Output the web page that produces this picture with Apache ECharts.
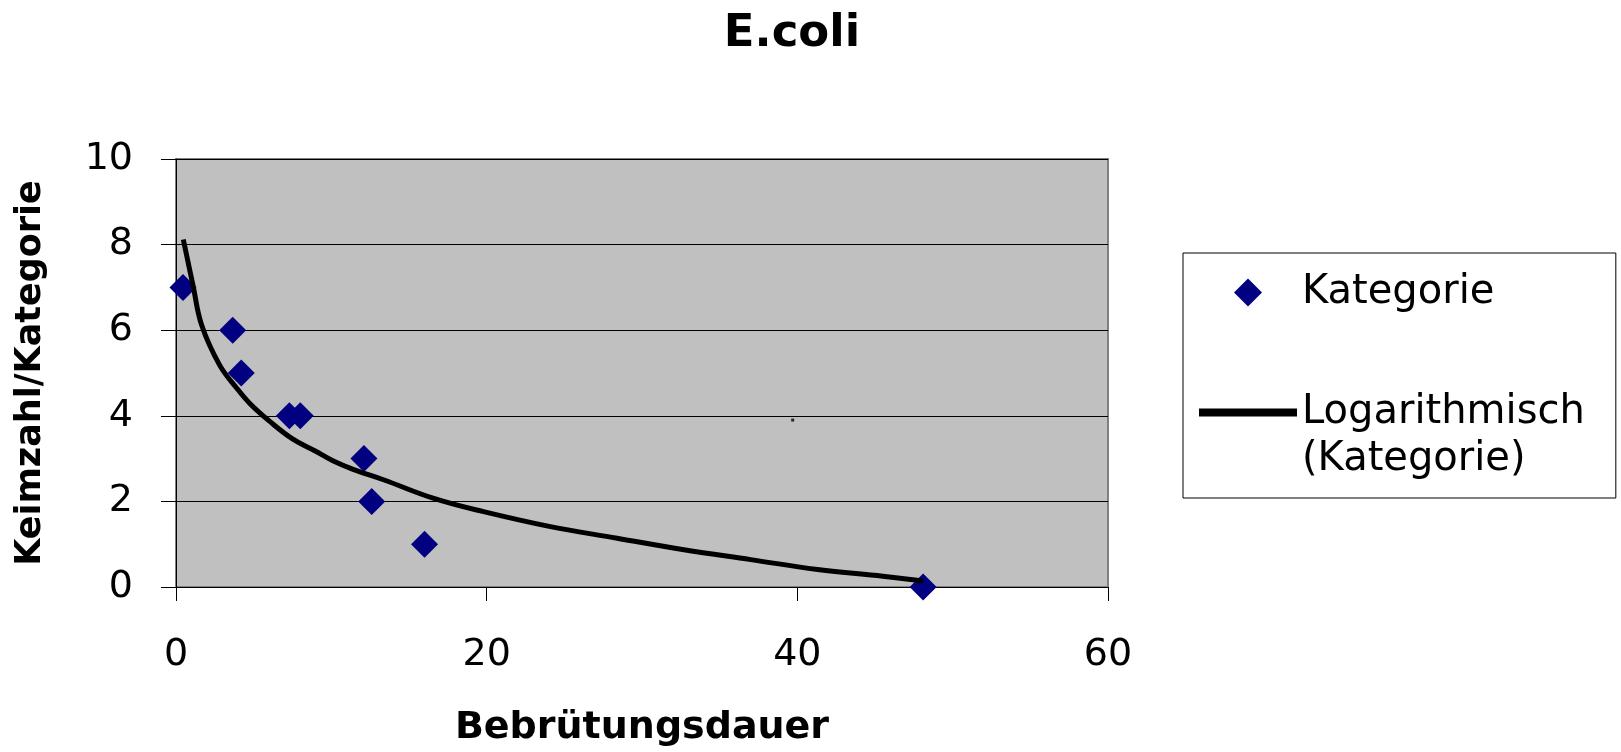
<!DOCTYPE html>
<html>
<head>
<meta charset="utf-8">
<title>E.coli</title>
<script src="https://cdn.jsdelivr.net/npm/echarts@6/dist/echarts.min.js"></script>
<style>
  html, body { margin: 0; padding: 0; background: #fff; }
  #main { width: 1621px; height: 752px; }
</style>
</head>
<body>
<div id="main"></div>
<script>
// measured points (Bebrütungsdauer / Keimzahl-Kategorie)
var kategorieX = [0.45, 3.65, 4.2, 7.3, 8.0, 12.1, 12.6, 16.0, 48.1];
var kategorieY = [7, 6, 5, 4, 4, 3, 2, 1, 0];

// logarithmic trendline
var trendX = [0.47, 1.1, 1.65, 2.8, 3.9, 4.8, 6.0, 7.5, 8.9, 10.1, 11.4, 13.4, 16.6, 19.8, 24.1, 28.4, 32.7, 37.0, 41.3, 45.5, 48.1];
var trendY = [8.12, 7.04, 6.12, 5.19, 4.65, 4.27, 3.88, 3.46, 3.19, 2.95, 2.75, 2.5, 2.07, 1.76, 1.41, 1.14, 0.87, 0.64, 0.41, 0.25, 0.14];

// small stray dot in the plot
var dotX = [39.7];
var dotY = [3.9];

var xTicks = [0, 20, 40, 60];
var yTicks = [0, 2, 4, 6, 8, 10];

function pairs(xs, ys) {
    var out = [];
    for (var i = 0; i < xs.length; i++) out.push([xs[i], ys[i]]);
    return out;
}

var myChart = echarts.init(document.getElementById('main'));

var option = {
    backgroundColor: '#ffffff',
    animation: false,
    title: {
        text: 'E.coli',
        left: 787,
        top: 7,
        textAlign: 'center',
        textStyle: { fontFamily: 'DejaVu Sans', fontWeight: 'bold', fontSize: 45, color: '#000' }
    },
    legend: {
        left: 1183,
        top: 253,
        orient: 'vertical',
        padding: [16, 31, 15, 16],
        itemGap: 26,
        itemWidth: 98,
        itemHeight: 28,
        symbolKeepAspect: true,
        borderColor: '#000',
        borderWidth: 1,
        data: [
            // square path so the diamond keeps its shape inside the wide icon box
            { name: 'Kategorie', icon: 'path://M14 0L28 14L14 28L0 14Z' },
            { name: 'Logarithmisch (Kategorie)', icon: 'path://M0 0H98V8H0Z' }
        ],
        formatter: function (name) {
            if (name === 'Logarithmisch (Kategorie)') return '\nLogarithmisch\n(Kategorie)';
            return name;
        },
        textStyle: { fontFamily: 'DejaVu Sans', fontSize: 40, lineHeight: 47, color: '#000' }
    },
    grid: {
        left: 176,
        top: 159,
        width: 932,
        height: 432,
        show: true,
        backgroundColor: '#c0c0c0',
        borderColor: '#808080',
        borderWidth: 2
    },
    xAxis: {
        type: 'value',
        min: xTicks[0],
        max: xTicks[xTicks.length - 1],
        interval: 20,
        name: 'Bebrütungsdauer',
        nameLocation: 'middle',
        nameGap: 122,
        nameTextStyle: { fontFamily: 'DejaVu Sans', fontWeight: 'bold', fontSize: 38, color: '#000' },
        axisLine: { show: true, lineStyle: { color: '#000', width: 1 } },
        axisTick: { show: true, length: 14, lineStyle: { color: '#000' } },
        axisLabel: { margin: 49, fontFamily: 'DejaVu Sans', fontSize: 38, color: '#000' },
        splitLine: { show: false }
    },
    yAxis: {
        type: 'value',
        min: yTicks[0],
        max: yTicks[yTicks.length - 1],
        interval: 2,
        name: 'Keimzahl/Kategorie',
        nameLocation: 'middle',
        nameGap: 128,
        nameTextStyle: { fontFamily: 'DejaVu Sans', fontWeight: 'bold', fontSize: 35, color: '#000' },
        axisLine: { show: true, lineStyle: { color: '#000', width: 1 } },
        axisTick: { show: true, length: 15, lineStyle: { color: '#000' } },
        axisLabel: { margin: 43, fontFamily: 'DejaVu Sans', fontSize: 38, color: '#000' },
        splitLine: { show: true, lineStyle: { color: '#000', width: 1 } }
    },
    series: [
        {
            name: 'Kategorie',
            type: 'scatter',
            symbol: 'diamond',
            symbolSize: 27,
            itemStyle: { color: '#000080', opacity: 1 },
            data: pairs(kategorieX, kategorieY)
        },
        {
            name: 'Logarithmisch (Kategorie)',
            type: 'line',
            symbol: 'none',
            smooth: 0.4,
            lineStyle: { color: '#000', width: 5 },
            itemStyle: { color: '#000' },
            data: pairs(trendX, trendY)
        },
        {
            name: 'dot',
            type: 'scatter',
            symbol: 'rect',
            symbolSize: 3,
            silent: true,
            itemStyle: { color: '#000' },
            data: pairs(dotX, dotY)
        }
    ]
};

myChart.setOption(option);
</script>
</body>
</html>
